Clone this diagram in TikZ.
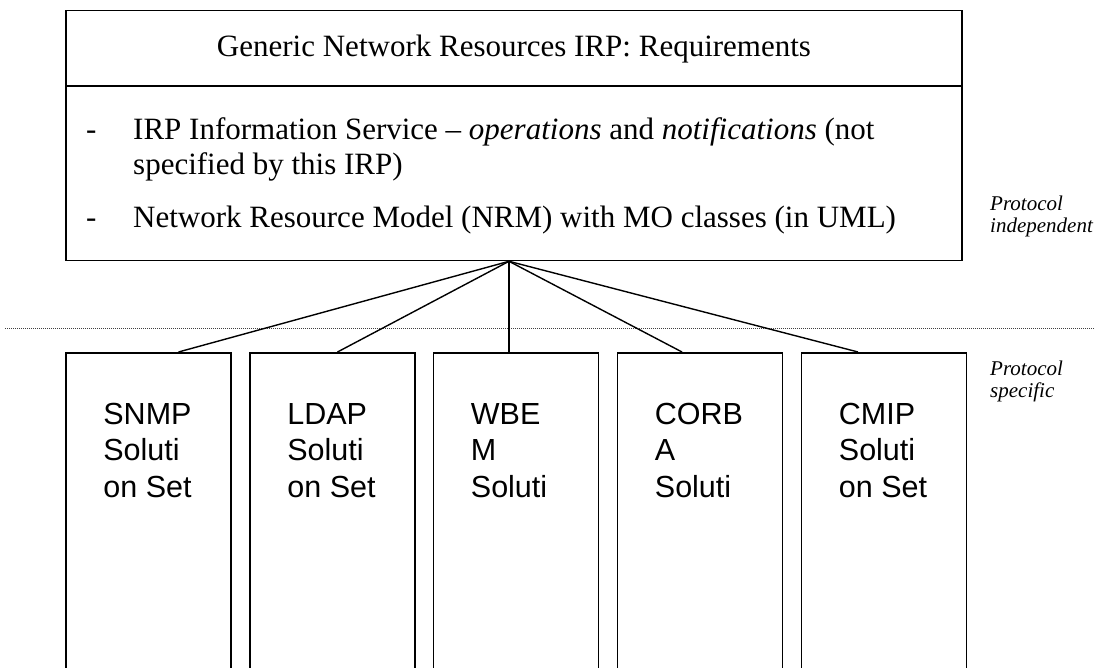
\documentclass[tikz,border=0pt]{standalone}
\usepackage{fontspec}
\setmainfont{Liberation Serif}
\newfontfamily\arialf{Liberation Sans}
\usetikzlibrary{calc}
\tikzset{
  boxline/.style={draw=black, line width=1.6pt},
  topbox/.style={boxline, rectangle, minimum width=896pt, minimum height=250pt, inner sep=0pt},
  solbox/.style={boxline, rectangle, minimum width=165pt, minimum height=420pt, inner sep=0pt, anchor=north},
  conn/.style={draw=black, line width=1.4pt},
  soltext/.style={anchor=base west, inner sep=0pt, align=left, font=\arialf\fontsize{30.5}{36.5}\selectfont},
  bodytext/.style={anchor=base west, inner sep=0pt, align=left, font=\fontsize{31}{35}\selectfont},
  sidelabel/.style={anchor=base west, inner sep=0pt, align=left, font=\itshape\fontsize{21}{22}\selectfont},
  sepline/.style={draw=black!75, line width=1pt, dash pattern=on 1pt off 1pt}
}
\begin{document}
\begin{tikzpicture}[x=1pt,y=-1pt]
\clip (0,0) rectangle (1094,668);
% top box
\node[topbox] (top) at (514,135.5) {};
\coordinate (divl) at (66,86);
\coordinate (divr) at (962,86);
\draw[boxline] (divl) -- (divr);
\node[anchor=base, inner sep=0pt, font=\fontsize{31}{35}\selectfont] (title) at (514,57) {Generic Network Resources IRP: Requirements};
\node[bodytext] (dash1) at (86,140) {-};
\node[bodytext] (item1) at (133,175) {IRP Information Service -- \textit{operations} and \textit{notifications} (not\\specified by this IRP)};
\node[bodytext] (dash2) at (86,228) {-};
\node[bodytext] (item2) at (133,228) {Network Resource Model (NRM) with MO classes (in UML)};
% side labels
\node[sidelabel] (indep) at (990,233) {Protocol\\independent};
\node[sidelabel] (spec) at (990,397) {Protocol\\specific};
% separator
\coordinate (sepl) at (5,328);
\coordinate (sepr) at (1094,328);
\draw[sepline] (sepl) -- (sepr);
% solution boxes
\node[solbox] (snmp) at (148.5,352) {};
\node[solbox] (ldap) at (332.5,352) {};
\node[solbox] (wbem) at (516,352) {};
\node[solbox] (corba) at (700,352) {};
\node[solbox] (cmip) at (884,352) {};
\node[soltext] (tsnmp) at ($(snmp.north west)+(38,145)$) {SNMP\\Soluti\\on Set};
\node[soltext] (tldap) at ($(ldap.north west)+(38,145)$) {LDAP\\Soluti\\on Set};
\node[soltext] (twbem) at ($(wbem.north west)+(38,145)$) {WBE\\M\\Soluti};
\node[soltext] (tcorba) at ($(corba.north west)+(38,145)$) {CORB\\A\\Soluti};
\node[soltext] (tcmip) at ($(cmip.north west)+(38,145)$) {CMIP\\Soluti\\on Set};
% connectors
\coordinate (apex) at ($(top.south)+(-5,0)$);
\draw[conn] (apex) -- ($(snmp.north)+(30,0)$);
\draw[conn] (apex) -- ($(ldap.north)+(5,0)$);
\draw[conn] (apex) -- ($(wbem.north)+(-7,0)$);
\draw[conn] (apex) -- ($(corba.north)+(-18,0)$);
\draw[conn] (apex) -- ($(cmip.north)+(-26,0)$);
\end{tikzpicture}
\end{document}
